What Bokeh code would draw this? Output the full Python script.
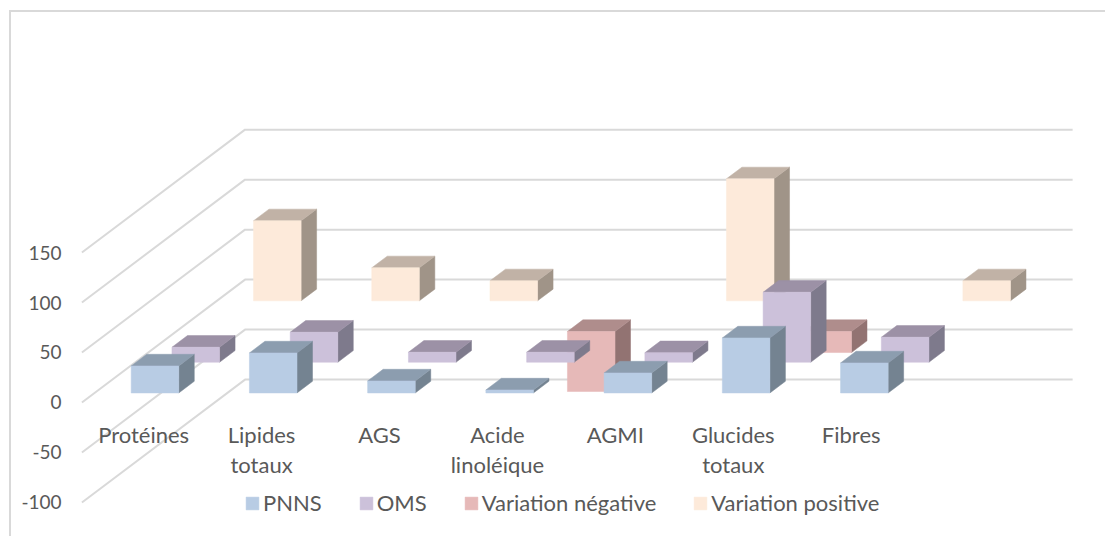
from bokeh.plotting import figure
from bokeh.models import Range1d, FixedTicker, Legend, LegendItem
from bokeh.core.properties import value
from bokeh.embed import file_html
from bokeh.resources import INLINE

categories = ["Protéines", "Lipides\ntotaux", "AGS", "Acide\nlinoléique", "AGMI", "Glucides\ntotaux", "Fibres"]
series_names = ["PNNS", "OMS", "Variation négative", "Variation positive"]
pnns = [27, 40, 12, 3, 20, 55, 30]
oms = [15, 30, 10, 10, 9.5, 70, 25]
variation_negative = [0, 0, 0, -60, 0, -21, 0]
variation_positive = [80, 33, 20, 0, 122, 0, 20]
y_ticks = [-100, -50, 0, 50, 100, 150]

front_colors = ["#B8CCE4", "#CCC1DA", "#E6B9B8", "#FDEADA"]
top_colors = ["#8C9DAF", "#9C91A6", "#AF8D8C", "#C1B2A6"]
side_colors = ["#748391", "#7E7A8C", "#927372", "#A09488"]
GRID = "#D9D9D9"
TEXT = "#595959"
FONT = "Lato"

# geometry of the oblique projection
PX_X = 118.0          # px per category
PX_Y = 0.996          # px per value unit
ROW_DX = 40.7 / PX_X  # category units per series row
ROW_DY = 30.6 / PX_Y  # value units per series row
BAR_W = 47.5 / PX_X
GAP = (1 - BAR_W) / 2 + 1.3 / PX_X
MARGIN = 0.31         # depth margin, in rows
BAR_D = 1 - 2 * MARGIN
ORIGIN_X, ORIGIN_Y = 81.4, 400.5

# host element starts at page (9, 10), with a 2px border on its top and left sides
OX, OY = 11, 12
W, H = 1105 - OX, 536 - OY
FRAME_L = 70
LEFT = FRAME_L - OX
x0 = (FRAME_L - ORIGIN_X) / PX_X
x1 = x0 + (W - LEFT) / PX_X
y1 = (ORIGIN_Y - OY) / PX_Y
y0 = y1 - H / PX_Y

p = figure(width=W, height=H, output_backend="svg", toolbar_location=None,
           x_range=Range1d(x0, x1), y_range=Range1d(y0, y1),
           min_border_left=LEFT, min_border_right=0, min_border_top=0, min_border_bottom=0,
           outline_line_color=None, background_fill_color=None, border_fill_color="white")
p.styles = {"margin-left": "9px", "margin-top": "10px", "box-sizing": "content-box",
            "border-left": f"2px solid {GRID}", "border-top": f"2px solid {GRID}"}
p.xaxis.visible = False
p.xgrid.visible = False
p.ygrid.visible = False
p.yaxis.ticker = FixedTicker(ticks=y_ticks)
p.yaxis.major_label_overrides = {t: str(t) for t in y_ticks}
p.yaxis.axis_line_color = None
p.yaxis.major_tick_line_color = None
p.yaxis.minor_tick_line_color = None
p.yaxis.major_tick_out = 0
p.yaxis.major_label_standoff = 9
p.yaxis.major_label_text_font = FONT
p.yaxis.major_label_text_font_size = "19px"
p.yaxis.major_label_text_color = TEXT


def proj(cx, d, v):
    return cx + d * ROW_DX, v + d * ROW_DY


# walls
n_rows = len(series_names)
n_cat = len(categories)
gx, gy = [], []
for t in y_ticks:
    a = proj(0, 0, t)
    b = proj(0, n_rows, t)
    c = proj(n_cat, n_rows, t)
    gx.append([a[0], b[0], c[0]])
    gy.append([a[1], b[1], c[1]])
p.multi_line(gx, gy, line_color=GRID, line_width=2)

# bars, from the back row to the front row
all_series = [pnns, oms, variation_negative, variation_positive]
legend_renderers = {}
for r in reversed(range(n_rows)):
    fx, fy, tx, ty, sx, sy = [], [], [], [], [], []
    for i, v in enumerate(all_series[r]):
        if v == 0:
            continue
        xl = i + GAP
        xr = xl + BAR_W
        lo, hi = min(v, 0), max(v, 0)
        d0 = r + MARGIN
        d1 = d0 + BAR_D
        pts = [proj(xl, d0, lo), proj(xr, d0, lo), proj(xr, d0, hi), proj(xl, d0, hi)]
        fx.append([q[0] for q in pts]); fy.append([q[1] for q in pts])
        pts = [proj(xl, d0, hi), proj(xr, d0, hi), proj(xr, d1, hi), proj(xl, d1, hi)]
        tx.append([q[0] for q in pts]); ty.append([q[1] for q in pts])
        pts = [proj(xr, d0, lo), proj(xr, d1, lo), proj(xr, d1, hi), proj(xr, d0, hi)]
        sx.append([q[0] for q in pts]); sy.append([q[1] for q in pts])
    p.patches(sx, sy, fill_color=side_colors[r], line_color=side_colors[r], line_width=0.5)
    p.patches(tx, ty, fill_color=top_colors[r], line_color=top_colors[r], line_width=0.5)
    legend_renderers[r] = p.patches(fx, fy, fill_color=front_colors[r], line_color=front_colors[r], line_width=0.5)

# category labels
label_y = (ORIGIN_Y - 418.5) / PX_Y
label_x = [(143 - ORIGIN_X + 117.7 * i) / PX_X for i in range(n_cat)]
p.text(label_x, [label_y] * n_cat, text=categories,
       text_font=value(FONT), text_font_size="22px", text_color=TEXT,
       text_align="center", text_baseline="top", text_line_height=1.14)

legend = Legend(
    items=[LegendItem(label=series_names[r], renderers=[legend_renderers[r]]) for r in range(n_rows)],
    orientation="horizontal", location=(244 - FRAME_L, 536 - 514),
    glyph_width=16, glyph_height=16, label_standoff=3, spacing=36, padding=0, margin=0,
    border_line_color=None, background_fill_alpha=0,
    label_text_font=FONT, label_text_font_size="22px", label_text_color=TEXT)
p.add_layout(legend)

open("out.html", "w").write(file_html(p, INLINE))
